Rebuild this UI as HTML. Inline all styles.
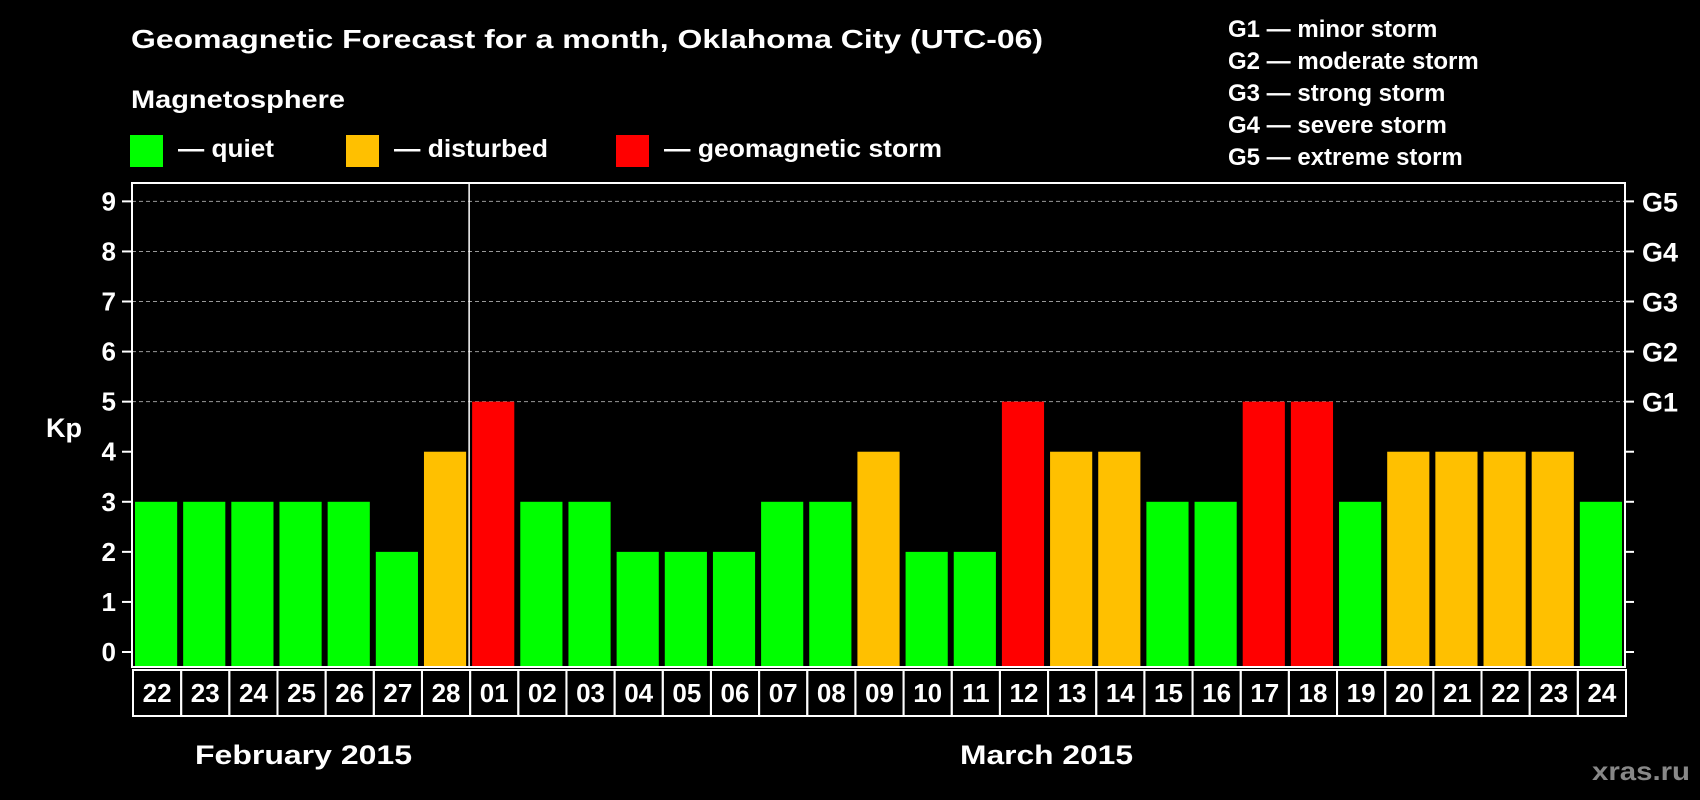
<!DOCTYPE html>
<html><head><meta charset="utf-8"><style>
html,body{margin:0;padding:0;background:#000;width:1700px;height:800px;overflow:hidden}
svg{display:block;font-family:"Liberation Sans",sans-serif;font-weight:bold}
</style></head><body>
<svg id="chart" width="1700" height="800" viewBox="0 0 1700 800">
<text x="131" y="48" fill="#fff" font-size="26" textLength="912" lengthAdjust="spacingAndGlyphs">Geomagnetic Forecast for a month, Oklahoma City (UTC-06)</text>
<text x="131" y="108" fill="#fff" font-size="25" textLength="214" lengthAdjust="spacingAndGlyphs">Magnetosphere</text>
<g><rect x="130" y="135" width="33" height="32" fill="#00ff00"/><text x="178" y="157" fill="#fff" font-size="25" textLength="96" lengthAdjust="spacingAndGlyphs">— quiet</text></g>
<g><rect x="346" y="135" width="33" height="32" fill="#ffc000"/><text x="394" y="157" fill="#fff" font-size="25" textLength="154" lengthAdjust="spacingAndGlyphs">— disturbed</text></g>
<g><rect x="616" y="135" width="33" height="32" fill="#ff0000"/><text x="664" y="157" fill="#fff" font-size="25" textLength="278" lengthAdjust="spacingAndGlyphs">— geomagnetic storm</text></g>
<g fill="#fff" font-size="24">
<text x="1228" y="37">G1 — minor storm</text>
<text x="1228" y="69">G2 — moderate storm</text>
<text x="1228" y="101">G3 — strong storm</text>
<text x="1228" y="133">G4 — severe storm</text>
<text x="1228" y="165">G5 — extreme storm</text>
</g>
<g id="grid"></g>
<g id="bars"></g>
<g id="axes"></g>
<text x="64" y="437" fill="#fff" font-size="27" text-anchor="middle">Kp</text>
<text x="195" y="764" fill="#fff" font-size="27" textLength="217" lengthAdjust="spacingAndGlyphs">February 2015</text>
<text x="960" y="764" fill="#fff" font-size="27" textLength="173" lengthAdjust="spacingAndGlyphs">March 2015</text>
<text x="1592" y="780" fill="#888" font-size="26" textLength="98" lengthAdjust="spacingAndGlyphs">xras.ru</text>
</svg>
<script>
const days = ["22","23","24","25","26","27","28","01","02","03","04","05","06","07","08","09","10","11","12","13","14","15","16","17","18","19","20","21","22","23","24"];
const kpValues = [3,3,3,3,3,2,4,5,3,3,2,2,2,3,3,4,2,2,5,4,4,3,3,5,5,3,4,4,4,4,3];
const yTicks = [0,1,2,3,4,5,6,7,8,9];
const gLabels = ["G1","G2","G3","G4","G5"];
const monthBreakIndex = 7;

const NS = "http://www.w3.org/2000/svg";
const L = 132, R = 1625, T = 183, B = 667, y0 = 652, unit = 50.07;
const step = (R - L) / days.length, barW = step - 6;
const yS = v => y0 - v * unit;
const xS = i => L + 3 + i * step;
function mk(tag, attrs, parent){const e=document.createElementNS(NS,tag);for(const k in attrs)e.setAttribute(k,attrs[k]);parent.appendChild(e);return e;}
const grid = document.getElementById('grid'), bars = document.getElementById('bars'), axes = document.getElementById('axes');
const color = v => v >= 5 ? "#ff0000" : (v >= 4 ? "#ffc000" : "#00ff00");

yTicks.forEach(v => {
  const y = yS(v);
  if (v >= 5) {
    const g = mk('line', {x1:L, x2:R, y1:y, y2:y, stroke:"#999", "stroke-width":1, "stroke-dasharray":"4,3"}, grid);
    
    
  }
  mk('line', {x1:L-10, x2:L, y1:y, y2:y, stroke:"#fff", "stroke-width":2}, axes);
  mk('line', {x1:R, x2:R+9, y1:y, y2:y, stroke:"#fff", "stroke-width":2}, axes);
  const t = mk('text', {x:L-16, y:y+9, fill:"#fff", "font-size":26, "text-anchor":"end"}, axes);
  t.textContent = v;
  
  
});
gLabels.forEach((g, k) => {
  const t = mk('text', {x:R+17, y:yS(5+k)+10, fill:"#fff", "font-size":27}, axes);
  t.textContent = g;
  
  
});
kpValues.forEach((v, i) => {
  const r = mk('rect', {x:xS(i), y:yS(v), width:barW, height:B - 1 - yS(v), fill:color(v)}, bars);
  
  
});
mk('rect', {x:L, y:T, width:R-L, height:B-T, fill:"none", stroke:"#fff", "stroke-width":2}, axes);
const sx = L + monthBreakIndex * step;
const sep = mk('line', {x1:sx, x2:sx, y1:T, y2:B, stroke:"#fff", "stroke-width":1.5}, axes);


days.forEach((d, i) => {
  const bx = L + 3 + i * step - 3;
  const c = mk('rect', {x:bx+1, y:670, width:step, height:46, fill:"none", stroke:"#fff", "stroke-width":2}, axes);
  
  
  const t = mk('text', {x:bx+1+step/2, y:702, fill:"#fff", "font-size":26, "text-anchor":"middle"}, axes);
  t.textContent = d;
  
  
});
</script>
</body></html>
